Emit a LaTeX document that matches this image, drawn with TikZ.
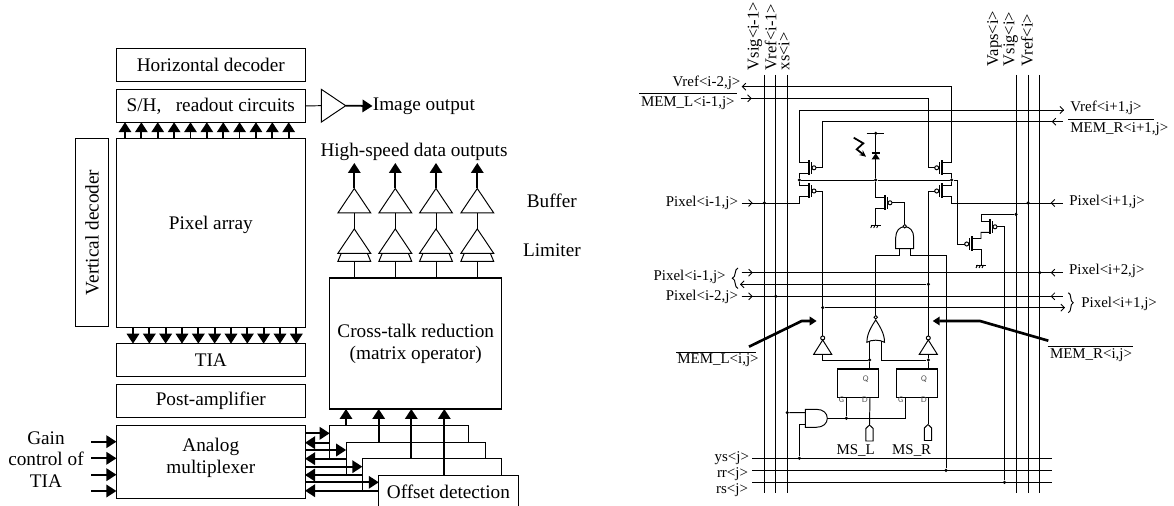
\documentclass[tikz,border=0pt]{standalone}
\usepackage{fontspec}
\setmainfont{Liberation Serif}
\usetikzlibrary{positioning, arrows.meta, decorations.pathreplacing}

\begin{document}
\begin{tikzpicture}[
    x=0.02cm, y=-0.02cm,
    block_box/.style={draw, line width=0.6pt, outer sep=0pt, inner sep=0pt, minimum width=3.776cm, minimum height=0.654cm, font=\fontsize{10.95}{12.4}\selectfont, align=center},
    offset_box/.style={block_box, fill=white, minimum width=2.786cm, minimum height=0.66cm},
    block_text/.style={inner sep=0pt, font=\fontsize{10.95}{12.4}\selectfont, align=center},
    net_text/.style={inner sep=0pt, font=\fontsize{8.5}{10}\selectfont},
    bus_text/.style={inner sep=0pt, rotate=90, anchor=west, font=\fontsize{9.4}{10}\selectfont},
    pin_text/.style={inner sep=0pt, text=black!70, font=\fontsize{4.5}{5}\selectfont\sffamily},
    data_arrow/.style={-{Triangle[length=0.2cm, width=0.25cm]}, line width=1pt},
    wire_line/.style={line width=0.55pt},
    pin_tip/.style={-{Straight Barb[length=0.07cm, width=0.14cm]}, line width=0.5pt},
    bold_arrow/.style={-{Triangle[length=0.14cm, width=0.17cm]}, line width=1.5pt},
    wire_dot/.style={circle, fill=black, inner sep=0pt, minimum size=0.07cm},
    wire_bubble/.style={circle, draw, fill=white, line width=0.5pt, inner sep=0pt, minimum size=0.07cm},
    amp_tri/.pic={
      \draw[wire_line] (-16.4,12.2) -- (0,-12.2) -- (16.4,12.2) -- cycle;
      \coordinate (-top) at (0,-12.2);
      \coordinate (-bot) at (0,12.2);
    },
    lim_base/.pic={
      \draw[wire_line] (-13,0) -- (-16.4,8) -- (16.4,8) -- (13,0);
      \coordinate (-bot) at (0,8);
    },
    mos_fet/.pic={
      \draw[line width=1pt] (0,-7.5) -- (0,7.5);
      \draw[wire_line] (2.7,-5.5) -- (2.7,6);
      \draw[wire_line, fill=white] (5,0) circle (0.04cm);
      \coordinate (-a) at (0,-5.5);
      \coordinate (-b) at (0,5.5);
      \coordinate (-g) at (7,0);
    },
    inv_tri/.pic={
      \draw[wire_line, fill=white] (0,0) circle (0.04cm);
      \draw[wire_line] (0,2) -- (9,16.3) -- (-9,16.3) -- cycle;
      \coordinate (-in) at (0,-2);
      \coordinate (-out) at (0,16.3);
    },
    and_gate/.pic={
      \draw[wire_line] (-9,22) -- (-9,11) .. controls (-9,4) and (-5,0) .. (0,0) .. controls (5,0) and (9,4) .. (9,11) -- (9,22) -- cycle;
      \coordinate (-in1) at (-5.7,22);
      \coordinate (-in2) at (5.7,22);
      \coordinate (-out) at (0,0);
    },
    or_gate/.pic={
      \draw[wire_line] (-8.8,22.3) .. controls (-9,14) and (-4,6) .. (0,0) .. controls (4,6) and (9,14) .. (8.8,22.3) .. controls (4,19.5) and (-4,19.5) .. (-8.8,22.3) -- cycle;
      \coordinate (-in1) at (-6,21);
      \coordinate (-in2) at (6,21);
      \coordinate (-out) at (0,0);
    },
    gnd_bar/.pic={
      \draw[wire_line] (-5,0) -- (5,0);
      \foreach \t in {-3.5,-0.5,2.5} {\draw[wire_line] (\t,0) -- ++(-1.5,3);}
      \coordinate (-in) at (0,0);
    },
    in_flag/.pic={
      \draw[wire_line] (0,0) -- (3.7,3.5) -- (3.7,16) -- (-3.7,16) -- (-3.7,3.5) -- cycle;
      \coordinate (-in) at (0,0);
    }
  ]
    \clip (0,0) rectangle (1174,506);

    \node[block_box] (Hdec) at (210.8,64.7) {Horizontal decoder};
    \node[block_box, below=0.17cm of Hdec] (SH) {S/H,\ \ \ readout circuits};
    \node[block_box, below=0.32cm of SH, minimum height=3.78cm] (Pix) {};
    \node[block_text] (PixText) at (210.8,225) {Pixel array};
    \node[block_box, rotate=90, minimum height=0.65cm] (Vdec) at (92.2,232.5) {Vertical decoder};
    \node[block_box, below=0.33cm of Pix] (TIA) {TIA};
    \node[block_box, below=0.16cm of TIA] (Post) {Post-amplifier};
    \node[block_box, below=0.17cm of Post, minimum height=1.466cm] (Mux) {};
    \node[block_text] (MuxText) at (210.8,458) {Analog\\multiplexer};
    \node[block_text] (Gain) at (46,459.5) {Gain\\control of\\TIA};

    \foreach \i in {0,...,10} {
      \coordinate (up\i) at ({125+16.37*\i},138);
      \coordinate (dn\i) at ({133+16.33*\i},327);
      \draw[data_arrow] (up\i) -- (up\i |- SH.south);
      \draw[data_arrow] (dn\i) -- (dn\i |- TIA.north);
    }
    \foreach \i/\y in {1/441.7, 2/458.3, 3/474.7, 4/491} {
      \coordinate (gain\i) at (91,\y);
      \draw[data_arrow] (gain\i) -- (gain\i -| Mux.west);
    }

    \pic[rotate=-90] (AmpI) at (333.5,105.7) {amp_tri};
    \node[block_text, anchor=west] (ImgOut) at (372.5,106) {Image output};
    \draw[wire_line] (SH.east) -- (AmpI-bot);
    \draw[data_arrow] (AmpI-top) -- (ImgOut.west);

    \node[block_box, minimum width=3.44cm, minimum height=2.62cm] (Xtalk) at (415.7,343.5) {Cross-talk reduction\\(matrix operator)};
    \node[block_text] (HSout) at (414,151.7) {High-speed data outputs};
    \node[block_text, anchor=west] (Buf) at (526.5,200.5) {Buffer};
    \node[block_text, anchor=west] (Lim) at (522.7,250) {Limiter};

    \foreach \c/\x in {1/354.3, 2/395.3, 3/436, 4/477.3} {
      \pic (buf\c) at (\x,200.7) {amp_tri};
      \pic (lim\c) at (\x,241.1) {amp_tri};
      \pic (base\c) at (\x,253.3) {lim_base};
      \coordinate (hs\c) at (\x,163);
      \draw[data_arrow] (buf\c-top) -- (hs\c);
      \draw[wire_line] (buf\c-bot) -- (lim\c-top);
      \draw[wire_line] (base\c-bot) -- (base\c-bot |- Xtalk.north);
    }

    \node[offset_box] (Off1) at (399.3,442.2) {};
    \node[offset_box] (Off2) at ([shift={(16.5,16.6)}]Off1) {};
    \node[offset_box] (Off3) at ([shift={(16.2,16.4)}]Off2) {};
    \node[offset_box] (Off4) at ([shift={(16.4,16.4)}]Off3) {Offset detection};

    \foreach \i/\x in {1/346, 2/378.7, 3/411.3, 4/444.3} {
      \coordinate (cx\i) at (\x,425);
      \draw[data_arrow] (cx\i |- Off\i.north) -- (cx\i |- Xtalk.south);
    }
    \foreach \i/\yr/\yl in {1/433.3/442.7, 2/450/458.7, 3/466.7/475, 4/482.3/490.7} {
      \coordinate (rt\i) at (305,\yr);
      \coordinate (lf\i) at (305,\yl);
      \draw[data_arrow] (rt\i) -- (rt\i -| Off\i.west);
      \draw[data_arrow] (lf\i -| Off\i.west) -- (lf\i);
    }

    \foreach \bus/\x in {vsigm/764.3, vrefm/775.7, xs/787.3, vaps/1016, vsig/1028, vref/1039.7} {
      \coordinate (\bus_top) at (\x,75);
      \coordinate (\bus_bot) at (\x,493.3);
      \draw[wire_line] (\bus_top) -- (\bus_bot);
    }
    \node[bus_text] (VsigmText) at (755,70.5) {Vsig<i-1>};
    \node[bus_text] (VrefmText) at (770.7,70.5) {Vref<i-1>};
    \node[bus_text] (XsText) at (784,70.5) {xs<i>};
    \node[bus_text] (VapsText) at (994.3,66.7) {Vaps<i>};
    \node[bus_text] (VsigText) at (1010.7,66.7) {Vsig<i>};
    \node[bus_text] (VrefText) at (1027,66.7) {Vref<i>};

    \foreach \row/\y in {ys/458.3, rr/470.3, rs/482.3} {
      \coordinate (\row_w) at (752.3,\y);
      \coordinate (\row_e) at (1051.7,\y);
      \draw[wire_line] (\row_w) -- (\row_e);
    }
    \node[net_text, anchor=east] (YsText) at (749.3,458) {ys<j>};
    \node[net_text, anchor=east] (RrText) at (748.3,474) {rr<j>};
    \node[net_text, anchor=east] (RsText) at (748.3,490) {rs<j>};

    \pic (ML1) at (809,167.8) {mos_fet};
    \pic (ML2) at (809,191) {mos_fet};
    \pic[xscale=-1] (MR1) at (941.7,167.8) {mos_fet};
    \pic[xscale=-1] (MR2) at (941.7,191) {mos_fet};
    \pic (MC) at (885,202.8) {mos_fet};
    \pic (MU) at (990,226.8) {mos_fet};
    \pic[xscale=-1] (MD) at (971.7,244) {mos_fet};
    \pic (GndC) at (875.7,225) {gnd_bar};
    \pic (GndR) at (981,265) {gnd_bar};
    \pic (InvL) at (822.7,338) {inv_tri};
    \pic (InvR) at (928.3,338) {inv_tri};
    \pic (AndT) at (904.7,226.7) {and_gate};
    \pic[rotate=-90] (AndB) at (827.3,418.3) {and_gate};
    \pic (OrG) at (875.7,320) {or_gate};
    \node[wire_bubble] (AndTb) at (904.7,226.2) {};
    \node[wire_bubble] (OrGb) at (875.7,317.3) {};

    \node[draw, line width=0.6pt, outer sep=0pt, minimum width=0.828cm, minimum height=0.566cm] (FFL) at (858,383.15) {};
    \node[draw, line width=0.6pt, outer sep=0pt, minimum width=0.828cm, minimum height=0.566cm] (FFR) at (916.8,383.15) {};
    \node[pin_text] (QL) at (865.7,378.7) {Q};
    \node[pin_text] (DL) at (865,399.3) {D};
    \node[pin_text] (GL) at (841.3,399.5) {G};
    \node[pin_text] (QR) at (924,378.7) {Q};
    \node[pin_text] (DR) at (924,399.3) {D};
    \node[pin_text] (GR) at (900.7,399.5) {G};

    \node[wire_dot] (JL) at (799.3,180) {};
    \node[wire_dot] (JC) at (875.7,180) {};
    \node[wire_dot] (JR) at (951.7,180) {};
    \node[wire_dot] (PdTop) at (875.7,133.3) {};
    \node[wire_dot] (PixLdot) at (764.3,203) {};
    \node[wire_dot] (PixRdot) at (1028,203) {};
    \node[wire_dot] (VapsDot) at (1016,214.3) {};
    \node[wire_dot] (VrefDot) at (1039.7,272.7) {};
    \node[wire_dot] (RetDot) at (928.3,284.3) {};
    \node[wire_dot] (VrefmDot) at (775.7,296.3) {};
    \node[wire_dot] (TapDot) at (822.7,307.7) {};
    \node[wire_dot] (FfLdot) at (869.7,360) {};
    \node[wire_dot] (FfRdot) at (928.3,360) {};
    \node[wire_dot] (ClkDot) at (846.3,418.3) {};
    \node[wire_dot] (XsDot) at (787.3,412.6) {};
    \node[wire_dot] (YsDot) at (799.3,458.3) {};
    \node[wire_dot] (RrDot) at (946,470.3) {};
    \node[wire_dot] (RsDot) at (1004.5,482.3) {};

    \coordinate (VrefIn) at (741.7,86.7);
    \coordinate (MemLIn) at (740.7,98.3);
    \coordinate (VrefOut) at (1064,110);
    \coordinate (MemROut) at (1062.7,121.7);
    \coordinate (PixLIn) at (741.7,203);
    \coordinate (PixRIn) at (1062.7,203);
    \coordinate (P2W) at (741.7,272.7);
    \coordinate (P2E) at (1062.7,272.7);
    \coordinate (P3W) at (740,284.3);
    \coordinate (P4W) at (741.7,296.3);
    \coordinate (P4E) at (1062.7,296.3);
    \coordinate (P5E) at (1065,307.7);

    \draw[wire_line] (VrefIn) -- (951.7,86.7) |- (MR1-a);
    \draw[wire_line] (MemLIn) -- (928.3,98.3) |- (MR1-g);
    \draw[wire_line] (ML1-a) -| (799.3,110) -- (VrefOut);
    \draw[wire_line] (ML1-g) -| (822.7,121.7) -- (MemROut);
    \draw[wire_line] (ML1-b) -| (JL);
    \draw[wire_line] (JL) |- (ML2-a);
    \draw[wire_line] (ML2-b) -| (799.3,203) -- (PixLIn);
    \draw[wire_line] (ML2-g) -| (InvL-in);
    \draw[wire_line] (MR1-b) -| (JR);
    \draw[wire_line] (JR) |- (MR2-a);
    \draw[wire_line] (MR2-b) -| (951.7,203) -- (PixRIn);
    \draw[wire_line] (MR2-g) -| (InvR-in);
    \draw[wire_line] (JL) -- (JC) -- (JR) -- (957.3,180) |- (MD-g);
    \draw[wire_line] (JC) |- (MC-a);
    \draw[wire_line] (MC-b) -| (GndC-in);
    \draw[wire_line] (MC-g) -| (AndTb);
    \draw[wire_line] (PdTop) -- (JC);
    \draw[wire_line] (866.7,133.3) -- (884.3,133.3);
    \fill (871.5,159.5) -- (879.9,159.5) -- (875.7,153.3) -- cycle;
    \draw[line width=1pt] (871.5,153.3) -- (879.9,153.3);
    \draw[-{Stealth[length=0.13cm, width=0.12cm]}, line width=1pt] (853.7,137.7) -- (863.3,143.3) -- (856.7,149.3) -- (866,156.7);

    \draw[wire_line] (MD-a) -- (981,238.5) |- (MU-b);
    \draw[wire_line] (MU-a) -- (981,221.3) |- (VapsDot);
    \draw[wire_line] (MD-b) -| (GndR-in);
    \draw[wire_line] (MU-g) -| (RsDot);

    \draw[wire_line] (P2W) -- (P2E);
    \draw[wire_line] (P3W) -- (RetDot);
    \draw[wire_line] (P4W) -- (P4E);
    \draw[wire_line] (TapDot) -- (P5E);

    \draw[pin_tip] (VrefIn) ++(10,0) -- (VrefIn);
    \draw[pin_tip] (MemLIn) -- ++(11,0);
    \draw[pin_tip] (VrefOut) ++(-10,0) -- (VrefOut);
    \draw[pin_tip] (MemROut) -- ++(-11,0);
    \draw[pin_tip] (PixLIn) -- ++(11,0);
    \draw[pin_tip] (PixRIn) -- ++(-12,0);
    \draw[pin_tip] (P2W) -- ++(11,0);
    \draw[pin_tip] (P2E) -- ++(-12,0);
    \draw[pin_tip] (P3W) ++(10,0) -- (P3W);
    \draw[pin_tip] (P4W) -- ++(11,0);
    \draw[pin_tip] (P4E) -- ++(-12,0);
    \draw[pin_tip] (P5E) ++(-10,0) -- (P5E);

    \draw[wire_line] (AndT-in1) |- (875.7,255.7) -- (OrGb);
    \draw[wire_line] (AndT-in2) |- (946,255.7) -- (RrDot);
    \draw[wire_line] (InvL-out) |- (FfLdot);
    \draw[wire_line] (OrG-in1) -- (OrG-in1 |- FfLdot);
    \draw[wire_line] (FfLdot) -- (FfLdot |- FFL.north);
    \draw[wire_line] (InvR-out) -- (FfRdot);
    \draw[wire_line] (OrG-in2) |- (FfRdot);
    \draw[wire_line] (FfRdot) -- (FfRdot |- FFR.north);
    \draw[wire_line] (AndB-out) -- (905,418.3) -- (905,418.3 |- FFR.south);
    \draw[wire_line] (ClkDot) -- (ClkDot |- FFL.south);
    \draw[wire_line] (AndB-in1) -- (XsDot);
    \draw[wire_line] (AndB-in2) -| (YsDot);

    \pic (FlagL) at (869.5,425) {in_flag};
    \pic (FlagR) at (928,424.5) {in_flag};
    \draw[wire_line] (870,397.3) -- (FlagL-in);
    \draw[wire_line] (928,397.3) -- (FlagR-in);
    \node[net_text] (MSL) at (855.7,450.7) {MS\_L};
    \node[net_text] (MSR) at (911.7,450.7) {MS\_R};

    \coordinate (BoldLa) at (749,346.7);
    \coordinate (BoldLb) at (816.7,321);
    \coordinate (BoldRa) at (1048.3,340.7);
    \coordinate (BoldRb) at (932.7,321);
    \draw[bold_arrow] (BoldLa) -- (801.7,321) -- (BoldLb);
    \draw[bold_arrow] (BoldRa) -- (980,321) -- (BoldRb);

    \node[net_text, anchor=east] (VrefL) at (740.7,83) {Vref<i-2,j>};
    \node[net_text, anchor=east] (MemL) at (735,102.7) {MEM\_L<i-1,j>};
    \node[net_text, anchor=west] (VrefR) at (1070,108.3) {Vref<i+1,j>};
    \node[net_text, anchor=west] (MemR) at (1070,129.3) {MEM\_R<i+1,j>};
    \node[net_text] (MemLi) at (718,360) {MEM\_L<i,j>};
    \node[net_text] (MemRi) at (1091,355) {MEM\_R<i,j>};
    \draw[wire_line] (639,93.7) -- (737.3,93.7);
    \draw[wire_line] (1068,119.3) -- (1154,119.3);
    \draw[wire_line] (676,352) -- (755.7,352);
    \draw[wire_line] (1047.7,346.7) -- (1133,346.7);

    \node[net_text, anchor=east] (PixA) at (738.3,203.3) {Pixel<i-1,j>};
    \node[net_text, anchor=west] (PixB) at (1069,202.3) {Pixel<i+1,j>};
    \node[net_text, anchor=east] (PixC) at (726,277.3) {Pixel<i-1,j>};
    \node[net_text, anchor=east] (PixD) at (738.3,296.7) {Pixel<i-2,j>};
    \node[net_text, anchor=west] (PixE) at (1068.7,270.7) {Pixel<i+2,j>};
    \node[net_text, anchor=west] (PixF) at (1081,304) {Pixel<i+1,j>};
    \draw[wire_line, decorate, decoration={brace, amplitude=3.2pt}] (738,288.5) -- (738,268);
    \draw[wire_line, decorate, decoration={brace, amplitude=2.8pt}] (1068.3,292.7) -- (1068.3,312.7);
  \end{tikzpicture}
\end{document}
